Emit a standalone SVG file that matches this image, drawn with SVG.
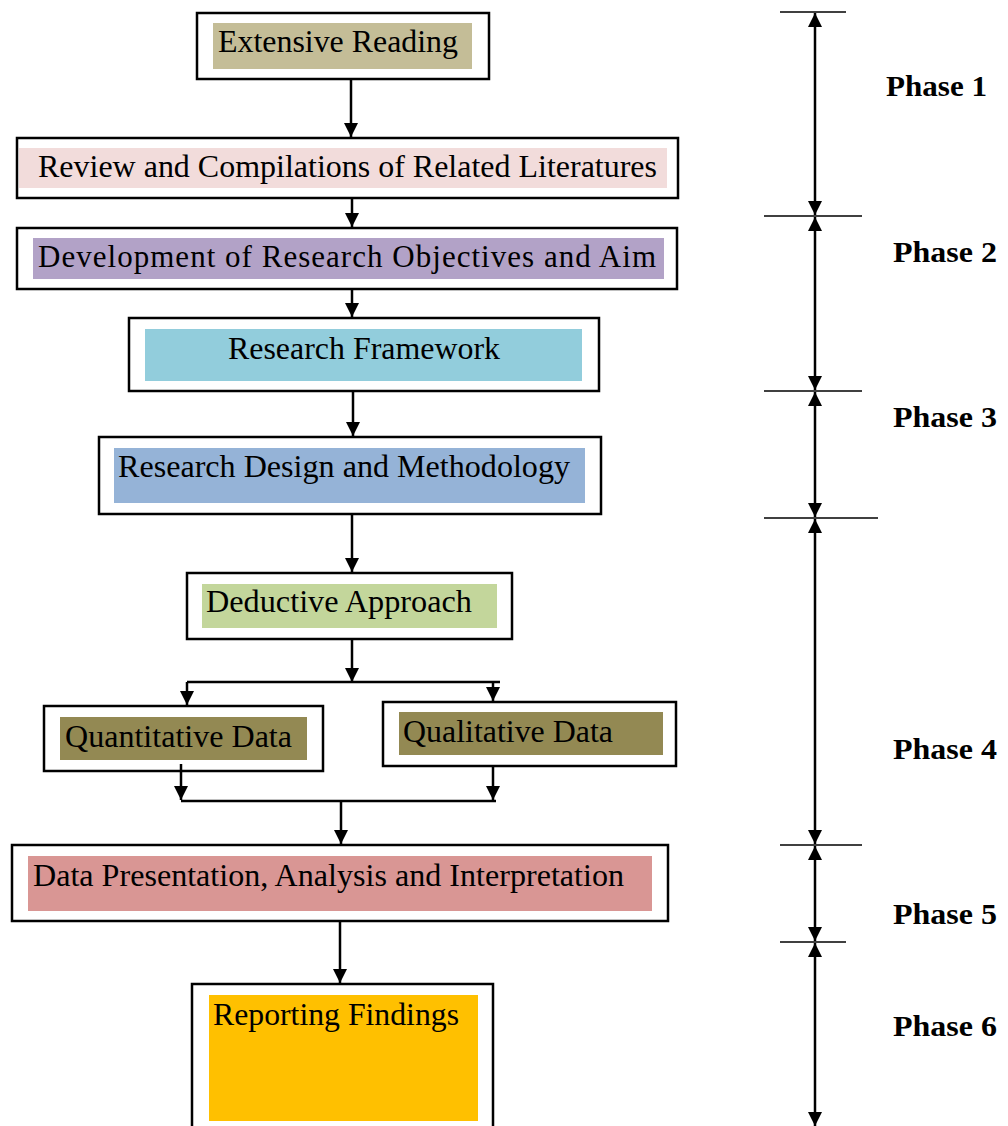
<svg xmlns="http://www.w3.org/2000/svg" width="1008" height="1126" viewBox="0 0 1008 1126">
<style>
.outer{fill:#fff;stroke:#000;stroke-width:2.5}
.lbl{font-family:"Liberation Serif","Times New Roman",serif;font-size:31px;fill:#000}
.ph{font-family:"Liberation Serif","Times New Roman",serif;font-size:30px;font-weight:bold;fill:#000}
.c{fill:none;stroke:#000;stroke-width:2.5}
.t{fill:none;stroke:#000;stroke-width:1.6}
</style>
<defs>
<marker id="ah" markerUnits="userSpaceOnUse" markerWidth="16" markerHeight="16" viewBox="0 0 16 16" refX="14" refY="8" orient="auto-start-reverse">
<path d="M0,1 L14,8 L0,15 Z" fill="#000"/>
</marker>
</defs>
<rect width="1008" height="1126" fill="#fff"/>

<g id="n1">
<rect class="outer" x="197" y="13" width="292" height="66"/>
<rect x="213" y="23" width="259" height="46" fill="#C4BD97"/>
<text class="lbl" x="218" y="52" textLength="240" lengthAdjust="spacingAndGlyphs">Extensive Reading</text>
</g>
<g id="n2">
<rect class="outer" x="17" y="138" width="661" height="60"/>
<rect x="19" y="148" width="648" height="40" fill="#F2DCDB"/>
<text class="lbl" x="38" y="177" textLength="619" lengthAdjust="spacingAndGlyphs">Review and Compilations of Related Literatures</text>
</g>
<g id="n3">
<rect class="outer" x="17" y="228" width="660" height="61"/>
<rect x="33" y="238" width="631" height="41" fill="#B2A2C7"/>
<text class="lbl" x="38" y="267" textLength="618" lengthAdjust="spacing">Development of Research Objectives and Aim</text>
</g>
<g id="n4">
<rect class="outer" x="129" y="318" width="470" height="73"/>
<rect x="145" y="329" width="437" height="52" fill="#92CDDC"/>
<text class="lbl" x="228" y="359" textLength="272" lengthAdjust="spacingAndGlyphs">Research Framework</text>
</g>
<g id="n5">
<rect class="outer" x="99" y="437" width="502" height="77"/>
<rect x="114" y="448" width="471" height="55" fill="#95B3D7"/>
<text class="lbl" x="118" y="477" textLength="452" lengthAdjust="spacingAndGlyphs">Research Design and Methodology</text>
</g>
<g id="n6">
<rect class="outer" x="187" y="573" width="325" height="66"/>
<rect x="202" y="584" width="295" height="44" fill="#C3D69B"/>
<text class="lbl" x="206" y="612" textLength="266" lengthAdjust="spacingAndGlyphs">Deductive Approach</text>
</g>
<g id="n7">
<rect class="outer" x="44" y="706" width="279" height="65"/>
<rect x="60" y="717" width="247" height="43" fill="#938953"/>
<text class="lbl" x="65" y="747" textLength="227" lengthAdjust="spacingAndGlyphs">Quantitative Data</text>
</g>
<g id="n8">
<rect class="outer" x="383" y="702" width="293" height="64"/>
<rect x="399" y="712" width="264" height="43" fill="#938953"/>
<text class="lbl" x="403" y="742" textLength="210" lengthAdjust="spacingAndGlyphs">Qualitative Data</text>
</g>
<g id="n9">
<rect class="outer" x="12" y="845" width="656" height="76"/>
<rect x="28" y="856" width="624" height="55" fill="#D99694"/>
<text class="lbl" x="33" y="886" textLength="591" lengthAdjust="spacingAndGlyphs">Data Presentation, Analysis and Interpretation</text>
</g>
<g id="n10">
<rect class="outer" x="192" y="984" width="301" height="150"/>
<rect x="209" y="995" width="269" height="126" fill="#FFC000"/>
<text class="lbl" x="213" y="1025" textLength="246" lengthAdjust="spacingAndGlyphs">Reporting Findings</text>
</g>

<g id="connectors">
<line class="c" x1="351" y1="79" x2="351" y2="137" marker-end="url(#ah)"/>
<line class="c" x1="352" y1="198" x2="352" y2="227" marker-end="url(#ah)"/>
<line class="c" x1="352" y1="289" x2="352" y2="317" marker-end="url(#ah)"/>
<line class="c" x1="353" y1="391" x2="353" y2="436" marker-end="url(#ah)"/>
<line class="c" x1="352" y1="514" x2="352" y2="572" marker-end="url(#ah)"/>
<line class="c" x1="352" y1="639" x2="352" y2="682" marker-end="url(#ah)"/>
<line class="c" x1="187" y1="682" x2="500" y2="682"/>
<line class="c" x1="187" y1="682" x2="187" y2="705" marker-end="url(#ah)"/>
<line class="c" x1="493" y1="682" x2="493" y2="701" marker-end="url(#ah)"/>
<line class="c" x1="181" y1="764" x2="181" y2="800" marker-end="url(#ah)"/>
<line class="c" x1="493" y1="767" x2="493" y2="800" marker-end="url(#ah)"/>
<line class="c" x1="181" y1="801" x2="496" y2="801"/>
<line class="c" x1="341" y1="801" x2="341" y2="844" marker-end="url(#ah)"/>
<line class="c" x1="340" y1="921" x2="340" y2="983" marker-end="url(#ah)"/>
</g>

<g id="phases">
<line class="t" x1="780" y1="12" x2="846" y2="12"/>
<line class="t" x1="764" y1="216" x2="862" y2="216"/>
<line class="t" x1="764" y1="391" x2="862" y2="391"/>
<line class="t" x1="764" y1="518" x2="878" y2="518"/>
<line class="t" x1="780" y1="845" x2="862" y2="845"/>
<line class="t" x1="780" y1="942" x2="846" y2="942"/>
<line class="c" x1="815" y1="13" x2="815" y2="215" marker-start="url(#ah)" marker-end="url(#ah)"/>
<line class="c" x1="815" y1="217" x2="815" y2="390" marker-start="url(#ah)" marker-end="url(#ah)"/>
<line class="c" x1="815" y1="392" x2="815" y2="517" marker-start="url(#ah)" marker-end="url(#ah)"/>
<line class="c" x1="815" y1="519" x2="815" y2="844" marker-start="url(#ah)" marker-end="url(#ah)"/>
<line class="c" x1="815" y1="846" x2="815" y2="941" marker-start="url(#ah)" marker-end="url(#ah)"/>
<line class="c" x1="815" y1="943" x2="815" y2="1126" marker-start="url(#ah)" marker-end="url(#ah)"/>
<text class="ph" x="886" y="96" textLength="101" lengthAdjust="spacingAndGlyphs">Phase 1</text>
<text class="ph" x="893" y="262" textLength="104" lengthAdjust="spacingAndGlyphs">Phase 2</text>
<text class="ph" x="893" y="427" textLength="104" lengthAdjust="spacingAndGlyphs">Phase 3</text>
<text class="ph" x="893" y="759" textLength="104" lengthAdjust="spacingAndGlyphs">Phase 4</text>
<text class="ph" x="893" y="924" textLength="104" lengthAdjust="spacingAndGlyphs">Phase 5</text>
<text class="ph" x="893" y="1036" textLength="104" lengthAdjust="spacingAndGlyphs">Phase 6</text>
</g>
</svg>
